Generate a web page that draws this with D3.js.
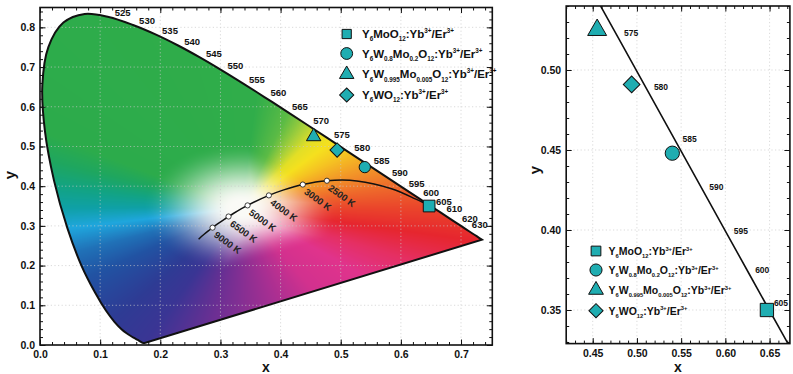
<!DOCTYPE html>
<html>
<head>
<meta charset="utf-8">
<script src="https://cdn.jsdelivr.net/npm/d3@7"></script>
<style>
  body { margin: 0; background: #fff; }
  svg { display: block; font-family: "Liberation Sans", Arial, sans-serif; }
</style>
</head>
<body>
<svg id="chart" width="793" height="374"></svg>
<script>
// CIE 1931 spectral locus, 380-700 nm
const wavelengths = [380,385,390,395,400,405,410,415,420,425,430,435,440,445,450,455,460,465,470,475,
  480,485,490,495,500,505,510,515,520,525,530,535,540,545,550,555,560,565,570,575,
  580,585,590,595,600,605,610,615,620,625,630,635,640,645,650,655,660,665,670,675,
  680,685,690,695,700];
const locusX = [0.1741,0.1740,0.1738,0.1736,0.1733,0.1730,0.1726,0.1721,0.1714,0.1703,0.1689,0.1669,0.1644,0.1611,0.1566,0.1510,0.1440,0.1355,0.1241,0.1096,
  0.0913,0.0687,0.0454,0.0235,0.0082,0.0039,0.0139,0.0389,0.0743,0.1142,0.1547,0.1929,0.2296,0.2658,0.3016,0.3373,0.3731,0.4087,0.4441,0.4788,
  0.5125,0.5448,0.5752,0.6029,0.6270,0.6482,0.6658,0.6801,0.6915,0.7006,0.7079,0.7140,0.7190,0.7230,0.7260,0.7283,0.7300,0.7311,0.7320,0.7327,
  0.7334,0.7340,0.7344,0.7346,0.7347];
const locusY = [0.0050,0.0050,0.0049,0.0049,0.0048,0.0048,0.0048,0.0048,0.0051,0.0058,0.0069,0.0086,0.0109,0.0138,0.0177,0.0227,0.0297,0.0399,0.0578,0.0868,
  0.1327,0.2007,0.2950,0.4127,0.5384,0.6548,0.7502,0.8120,0.8338,0.8262,0.8059,0.7816,0.7543,0.7243,0.6923,0.6589,0.6245,0.5896,0.5547,0.5202,
  0.4866,0.4544,0.4242,0.3965,0.3725,0.3514,0.3340,0.3197,0.3083,0.2993,0.2920,0.2859,0.2809,0.2770,0.2740,0.2717,0.2700,0.2689,0.2680,0.2673,
  0.2666,0.2660,0.2656,0.2654,0.2653];
const labelsLeft = [525,530,535,540,545,550,555,560,565,570,575,580,585,590,595,600,605,610,620,630];
const labelsRight = [575,580,585,590,595,600,605];

// Planckian locus
const cctK = [15000,12000,10000,9000,8000,7000,6500,6000,5000,4000,3500,3000,2500,2000,1500,1200,1100];
const cctX = [0.2637,0.2719,0.2807,0.2869,0.2952,0.3064,0.3135,0.3221,0.3451,0.3805,0.4053,0.4369,0.4770,0.5267,0.5857,0.6250,0.6370];
const cctY = [0.2663,0.2776,0.2884,0.2956,0.3048,0.3166,0.3236,0.3318,0.3516,0.3768,0.3907,0.4041,0.4137,0.4133,0.3931,0.3674,0.3590];
const cctMarked = [9000,6500,5000,4000,3000,2500];

// samples
const sampleNames = [
  "Y_{6}MoO_{12}:Yb^{3+}/Er^{3+}",
  "Y_{6}W_{0.8}Mo_{0.2}O_{12}:Yb^{3+}/Er^{3+}",
  "Y_{6}W_{0.995}Mo_{0.005}O_{12}:Yb^{3+}/Er^{3+}",
  "Y_{6}WO_{12}:Yb^{3+}/Er^{3+}"
];
const sampleX = [0.647, 0.540, 0.455, 0.494];
const sampleY = [0.350, 0.448, 0.525, 0.491];
const sampleShape = ['square', 'circle', 'triangle', 'diamond'];

// ticks
const leftXTicks = [0,0.1,0.2,0.3,0.4,0.5,0.6,0.7];
const leftYTicks = [0,0.1,0.2,0.3,0.4,0.5,0.6,0.7,0.8];
const rightXTicks = [0.45,0.50,0.55,0.60,0.65];
const rightYTicks = [0.35,0.40,0.45,0.50];

const teal = '#1fadb1';
const svg = d3.select('#chart');

const xL = d3.scaleLinear().domain([0, 0.752]).range([40, 492.3]);
const yL = d3.scaleLinear().domain([0, 0.85]).range([345, 7.5]);
const xR = d3.scaleLinear().domain([0.42, 0.673]).range([566.2, 789.9]);
const yR = d3.scaleLinear().domain([0.329, 0.54]).range([343.6, 6]);

const locus = wavelengths.map((w, i) => ({w, x: locusX[i], y: locusY[i]}));
const planck = cctK.map((k, i) => ({k, x: cctX[i], y: cctY[i]}));
const samples = sampleNames.map((n, i) => ({n, x: sampleX[i], y: sampleY[i], s: sampleShape[i]}));

const lineGen = (xs, ys) => d3.line().x(d => xs(d.x)).y(d => ys(d.y)).curve(d3.curveCatmullRom);

// ---- colour field (approximate chromaticity colouring) ----
const white = [0.335, 0.345];
const hueAngles = [-12, 0, 12, 25, 38, 48, 56, 63, 72, 85, 150, 160, 170, 180, 190, 202, 214, 233, 245, 260, 282, 300, 320, 335, 348];
const hueColors = ['#e6262e','#ea452b','#ee6a2b','#f29628','#f5c322','#f5e01e','#e2df26','#a9d03a','#5cbb45','#30ad4a',
  '#2cab4b','#1ea660','#12a383','#0fa0a6','#1fa6dd','#2071b7','#2153a3','#2e3b94','#3a3594','#6a2f93',
  '#a52f92','#d2318e','#e0338c','#e52f62','#e6262e'];

function colourField() {
  const NB = 1440;
  const hue = d3.scaleLinear().domain(hueAngles).range(hueColors).interpolate(d3.interpolateRgb);
  const poly = locus.map(d => [d.x, d.y]);
  const hueTab = [], reach = [];
  for (let k = 0; k < NB; k++) {
    let a = k / 4;
    const c = d3.rgb(hue(a >= 348 ? a - 360 : a));
    hueTab.push([c.r, c.g, c.b]);
    const dx = Math.cos(a * Math.PI / 180), dy = Math.sin(a * Math.PI / 180);
    let best = 1;
    for (let i = 0; i < poly.length; i++) {
      const p = poly[i], q = poly[(i + 1) % poly.length];
      const ex = q[0] - p[0], ey = q[1] - p[1];
      const den = dx * ey - dy * ex;
      if (Math.abs(den) < 1e-12) continue;
      const wx = p[0] - white[0], wy = p[1] - white[1];
      const t = (wx * ey - wy * ex) / den;
      const u = (wx * dy - wy * dx) / den;
      if (t > 0 && u >= 0 && u <= 1 && t < best) best = t;
    }
    reach.push(best);
  }
  const x0 = Math.floor(xL.range()[0]), y0 = Math.floor(yL.range()[1]);
  const w = Math.ceil(xL.range()[1]) - x0, h = Math.ceil(yL.range()[0]) - y0;
  const cv = document.createElement('canvas');
  cv.width = w; cv.height = h;
  const ctx = cv.getContext('2d');
  const img = ctx.createImageData(w, h);
  for (let j = 0; j < h; j++) {
    const vy = yL.invert(y0 + j + 0.5) - white[1];
    for (let i = 0; i < w; i++) {
      const vx = xL.invert(x0 + i + 0.5) - white[0];
      let a = Math.atan2(vy, vx) * 180 / Math.PI;
      if (a < 0) a += 360;
      const k = Math.round(a * 4) % NB;
      const dist = Math.hypot(vx, vy);
      const s = Math.min(1, dist / reach[k]);
      const t = Math.max(0, Math.min(1, Math.max((dist - 0.015) / 0.15, (s - 0.1) / 0.45)));
      const g = t * t * (3 - 2 * t);
      const c = hueTab[k], o = (j * w + i) * 4;
      img.data[o] = 250 * (1 - g) + c[0] * g;
      img.data[o + 1] = 250 * (1 - g) + c[1] * g;
      img.data[o + 2] = 246 * (1 - g) + c[2] * g;
      img.data[o + 3] = 255;
    }
  }
  ctx.putImageData(img, 0, 0);
  return {href: cv.toDataURL(), x: x0, y: y0, w, h};
}

// ---- helpers ----
function symbolPath(shape, size) {
  const type = {square: d3.symbolSquare, circle: d3.symbolCircle, triangle: d3.symbolTriangle, diamond: d3.symbolSquare}[shape];
  return d3.symbol().type(type).size(size)();
}
function marker(g, shape, cx, cy, size) {
  g.append('path')
    .attr('d', symbolPath(shape, size))
    .attr('transform', `translate(${cx},${cy})` + (shape === 'diamond' ? ' rotate(45)' : ''))
    .attr('fill', teal).attr('stroke', '#111').attr('stroke-width', 1);
}
function richText(t, str, fs) {
  const parts = str.split(/(_\{[^}]*\}|\^\{[^}]*\})/).filter(d => d);
  let shift = 0;
  parts.forEach(p => {
    const type = p[0] === '_' ? 'sub' : p[0] === '^' ? 'sup' : 'n';
    const txt = type === 'n' ? p : p.slice(2, -1);
    const target = type === 'sub' ? fs * 0.3 : type === 'sup' ? -fs * 0.42 : 0;
    t.append('tspan').attr('dy', target - shift).attr('font-size', type === 'n' ? fs : fs * 0.55).text(txt);
    shift = target;
  });
}
function frame(g, xs, ys, xMajor, yMajor, xStep, yStep, fmt) {
  const [xa, xb] = xs.range(), [ya, yb] = ys.range();
  const xMinor = d3.range(Math.ceil(xs.domain()[0] / xStep - 1e-6), Math.floor(xs.domain()[1] / xStep + 1e-6) + 1).map(i => +(i * xStep).toFixed(4));
  const yMinor = d3.range(Math.ceil(ys.domain()[0] / yStep - 1e-6), Math.floor(ys.domain()[1] / yStep + 1e-6) + 1).map(i => +(i * yStep).toFixed(4));
  const ax = (axis, tr, vals, size, lab, pad) => {
    const a = g.append('g').attr('transform', tr)
      .call(axis.tickValues(vals).tickSize(size).tickPadding(pad).tickFormat(lab ? fmt : () => ''));
    a.attr('font-family', null).attr('font-size', null);
    a.select('.domain').remove();
    a.selectAll('line').attr('stroke', '#111').attr('stroke-width', 1);
    a.selectAll('text').attr('font-size', 10.5).attr('font-weight', 'bold').attr('fill', '#111');
  };
  ax(d3.axisBottom(xs), `translate(0,${ya})`, xMinor, -3, false, 6);
  ax(d3.axisBottom(xs), `translate(0,${ya})`, xMajor, -5.5, true, 6);
  ax(d3.axisTop(xs), `translate(0,${yb})`, xMinor, -3, false, 6);
  ax(d3.axisTop(xs), `translate(0,${yb})`, xMajor, -5.5, false, 6);
  ax(d3.axisLeft(ys), `translate(${xa},0)`, yMinor, -3, false, 5);
  ax(d3.axisLeft(ys), `translate(${xa},0)`, yMajor, -5.5, true, 5);
  ax(d3.axisRight(ys), `translate(${xb},0)`, yMinor, -3, false, 5);
  ax(d3.axisRight(ys), `translate(${xb},0)`, yMajor, -5.5, false, 5);
  g.append('rect').attr('x', xa).attr('y', yb).attr('width', xb - xa).attr('height', ya - yb)
    .attr('fill', 'none').attr('stroke', '#111').attr('stroke-width', 1.6);
}
function grid(g, xs, ys, xv, yv) {
  const gg = g.append('g').attr('stroke', '#c9c9c9').attr('stroke-width', 0.9)
    .attr('stroke-dasharray', '1.2,2.4').attr('opacity', 0.75);
  gg.selectAll('.gx').data(xv).join('line')
    .attr('x1', d => xs(d)).attr('x2', d => xs(d)).attr('y1', ys.range()[0]).attr('y2', ys.range()[1]);
  gg.selectAll('.gy').data(yv).join('line')
    .attr('y1', d => ys(d)).attr('y2', d => ys(d)).attr('x1', xs.range()[0]).attr('x2', xs.range()[1]);
}

// ---- left panel ----
const L = svg.append('g');
const locusPath = lineGen(xL, yL)(locus) + 'Z';
svg.append('defs').append('clipPath').attr('id', 'locusClip').append('path').attr('d', locusPath);
const field = colourField();
L.append('image').attr('href', field.href).attr('x', field.x).attr('y', field.y)
  .attr('width', field.w).attr('height', field.h).attr('clip-path', 'url(#locusClip)');
grid(L, xL, yL, leftXTicks.slice(1), leftYTicks.slice(1));
L.append('path').attr('d', locusPath).attr('fill', 'none').attr('stroke', '#111').attr('stroke-width', 2);

L.selectAll('.wl').data(locus.filter(d => labelsLeft.includes(d.w))).join('text')
  .attr('x', d => xL(d.x) + 14).attr('y', d => yL(d.y) - 4).attr('dy', '0.35em')
  .attr('text-anchor', 'middle').attr('font-size', 9.5).attr('font-weight', 'bold').attr('fill', '#111')
  .text(d => d.w);

L.append('path').attr('d', lineGen(xL, yL)(planck)).attr('fill', 'none').attr('stroke', '#111').attr('stroke-width', 1.5);
const marked = planck.filter(d => cctMarked.includes(d.k));
L.selectAll('.cc').data(marked).join('circle')
  .attr('cx', d => xL(d.x)).attr('cy', d => yL(d.y)).attr('r', 2.6)
  .attr('fill', '#fff').attr('stroke', '#111').attr('stroke-width', 0.8);
L.selectAll('.ct').data(marked).join('text')
  .attr('transform', d => `translate(${xL(d.x) + 15},${yL(d.y) + 15}) rotate(36)`)
  .attr('text-anchor', 'middle').attr('dy', '0.35em')
  .attr('font-size', 9.5).attr('font-weight', 'bold').attr('fill', '#222')
  .text(d => d.k + ' K');

samples.forEach(d => {
  const size = {square: 137, circle: 100, triangle: 90, diamond: 102}[d.s];
  marker(L, d.s, xL(d.x), yL(d.y), size);
});

const legL = L.append('g');
samples.forEach((d, i) => {
  const cy = [34, 53.5, 74.3, 95][i];
  const size = {square: 85, circle: 110, triangle: 90, diamond: 100}[d.s];
  marker(legL, d.s, 346.7, cy, size);
  richText(legL.append('text').attr('x', 362).attr('y', cy + 4).attr('font-weight', 'bold').attr('fill', '#111'), d.n, 11.5);
});

frame(L, xL, yL, leftXTicks, leftYTicks, 0.02, 0.02, d3.format('.1f'));
L.append('text').attr('x', 266).attr('y', 367).attr('dy', '0.35em').attr('text-anchor', 'middle')
  .attr('font-size', 14).attr('font-weight', 'bold').attr('fill', '#111').text('x');
L.append('text').attr('transform', 'translate(10,175) rotate(-90)').attr('dy', '0.35em').attr('text-anchor', 'middle')
  .attr('font-size', 15).attr('font-weight', 'bold').attr('fill', '#111').text('y');

// ---- right panel ----
const R = svg.append('g');
svg.select('defs').append('clipPath').attr('id', 'rClip').append('rect')
  .attr('x', xR.range()[0]).attr('y', yR.range()[1])
  .attr('width', xR.range()[1] - xR.range()[0]).attr('height', yR.range()[0] - yR.range()[1]);
grid(R, xR, yR, rightXTicks, rightYTicks);
R.append('path').attr('d', lineGen(xR, yR)(locus)).attr('clip-path', 'url(#rClip)')
  .attr('fill', 'none').attr('stroke', '#111').attr('stroke-width', 1.6);
R.selectAll('.wl').data(locus.filter(d => labelsRight.includes(d.w))).join('text')
  .attr('x', d => xR(d.x) + 13).attr('y', d => yR(d.y) - 4.4).attr('dy', '0.35em')
  .attr('text-anchor', 'middle').attr('font-size', 8.5).attr('font-weight', 'bold').attr('fill', '#111')
  .text(d => d.w);
samples.forEach(d => {
  const size = {square: 177, circle: 160, triangle: 156, diamond: 139}[d.s];
  marker(R, d.s, xR(d.x), yR(d.y), size);
});
const legR = R.append('g');
samples.forEach((d, i) => {
  const cy = [251, 270, 290, 310.7][i];
  const size = {square: 95, circle: 115, triangle: 95, diamond: 100}[d.s];
  marker(legR, d.s, 596, cy, size);
  richText(legR.append('text').attr('x', 608.5).attr('y', cy + 4).attr('font-weight', 'bold').attr('fill', '#111'), d.n, 10.5);
});
frame(R, xR, yR, rightXTicks, rightYTicks, 0.01, 0.01, d3.format('.2f'));
R.append('text').attr('x', 678).attr('y', 367.5).attr('dy', '0.35em').attr('text-anchor', 'middle')
  .attr('font-size', 14).attr('font-weight', 'bold').attr('fill', '#111').text('x');
R.append('text').attr('transform', 'translate(535,170) rotate(-90)').attr('dy', '0.35em').attr('text-anchor', 'middle')
  .attr('font-size', 15).attr('font-weight', 'bold').attr('fill', '#111').text('y');
</script>
</body>
</html>
